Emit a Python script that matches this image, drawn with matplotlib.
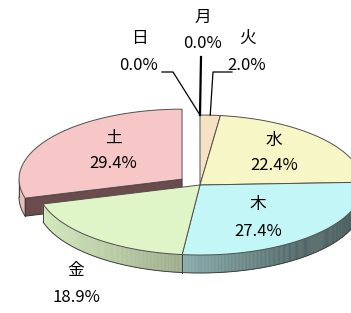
import numpy as np
import matplotlib
matplotlib.use('Agg')
import matplotlib.pyplot as plt
from matplotlib.patches import Polygon
from matplotlib.collections import PolyCollection

plt.rcParams['font.family'] = ['Noto Sans CJK JP', 'DejaVu Sans']

# ---- data ----
labels = ['日', '月', '火', '水', '木', '金', '土']
values = [0.0, 0.0, 2.0, 22.4, 27.4, 18.9, 29.4]
explode = [0, 0, 0, 0, 0, 0, 0.138]

# ---- style / layout ----
top_colors = ['#F6E2C2', '#F6E2C2', '#F6E2C2', '#F6F6C6', '#C3F6F6', '#DFF5C7', '#F7C6C6']
radial_color = '#6B4B4B'
CX, CY = 200.0, 185.0
RX, RY = 163.0, 70.0
H = 18.0
label_pos = {  # (x, y_name, y_pct)
    '日': (139, 38, 65),
    '月': (203, 17, 43),
    '火': (247, 38, 65),
    '水': (274, 140, 166),
    '木': (258, 204, 231),
    '金': (76, 271, 297),
    '土': (113, 138, 164),
}
leader_elbow = {'日': [(162, 72), (173, 72)], '月': [(201, 57)], '火': [(232, 72), (213, 72)]}
leader_lw = {'日': 0.9, '月': 1.6, '火': 0.9}

fig = plt.figure(figsize=(3.51, 3.13), dpi=100)
ax = fig.add_axes([0, 0, 1, 1])
ax.set_xlim(0, 351)
ax.set_ylim(313, 0)
ax.axis('off')

total = sum(values)
bounds = np.concatenate([[0], np.cumsum(values)]) / total * 360.0


def pt(theta, cx, cy, dz=0.0):
    t = np.radians(theta)
    return cx + RX * np.sin(t), cy - RY * np.cos(t) + dz


def shade(theta):
    s = np.sin(np.radians(theta))
    return np.interp(s, [-1.0, -0.1, 0.6, 1.0], [0.96, 0.70, 0.42, 0.38])


def scale(col, f):
    c = np.array(matplotlib.colors.to_rgb(col))
    return tuple(np.clip(c * f, 0, 1))


def draw_slice(i, z):
    a, b = bounds[i], bounds[i + 1]
    if b - a <= 0:
        return
    mid = np.radians((a + b) / 2)
    cx = CX + explode[i] * RX * np.sin(mid)
    cy = CY - explode[i] * RY * np.cos(mid)
    base = top_colors[i]
    # outer wall (front half only)
    lo, hi = max(a, 90.0), min(b, 270.0)
    if hi > lo:
        th = np.linspace(lo, hi, max(int((hi - lo) * 2), 2))
        quads, cols = [], []
        for t0, t1 in zip(th[:-1], th[1:]):
            p0 = pt(t0, cx, cy); p1 = pt(t1, cx, cy)
            q = [p0, p1, (p1[0], p1[1] + H), (p0[0], p0[1] + H)]
            quads.append(q)
            cols.append(scale(base, shade((t0 + t1) / 2)))
        pc = PolyCollection(quads, facecolors=cols, edgecolors=cols, linewidths=0.3, zorder=z)
        ax.add_collection(pc)
        xs, ys = pt(th, cx, cy, H)
        ax.plot(xs, ys, color='#404040', lw=0.7, zorder=z + 0.1)
        for t in (lo, hi):
            x0, y0 = pt(t, cx, cy)
            ax.plot([x0, x0], [y0, y0 + H], color='#404040', lw=0.7, zorder=z + 0.1)
    # radial face visible when exploded at start angle in front-left
    if explode[i] > 0 and 180 < a < 270:
        p = pt(a, cx, cy)
        q = [(cx, cy), p, (p[0], p[1] + H), (cx, cy + H)]
        ax.add_patch(Polygon(q, closed=True, facecolor=radial_color, edgecolor='#303030', lw=0.7, zorder=z + 0.2))
    # top face
    th = np.linspace(a, b, max(int((b - a) * 2), 2))
    xs, ys = pt(th, cx, cy)
    poly = [(cx, cy)] + list(zip(xs, ys))
    ax.add_patch(Polygon(poly, closed=True, facecolor=base, edgecolor='#505050', lw=0.7, zorder=z + 0.5))


# draw back-to-front: exploded slice first
draw_slice(6, 1)
for i in range(6):
    draw_slice(i, 3)

# labels
for i, lab in enumerate(labels):
    x, yn, yp = label_pos[lab]
    ax.text(x, yn, lab, ha='center', va='center', fontsize=12, color='black', zorder=10)
    ax.text(x, yp, f'{values[i]:.1f}%', ha='center', va='center', fontsize=12, color='black', zorder=10)

# leader lines for small slices
for i, lab in enumerate(labels):
    if lab in leader_elbow:
        a, b = bounds[i], bounds[i + 1]
        end = pt((a + b) / 2, CX, CY)
        pts = leader_elbow[lab] + [end]
        ax.plot([p[0] for p in pts], [p[1] for p in pts], color='black', lw=leader_lw[lab], zorder=9)

fig.savefig('out.png', dpi=100)
